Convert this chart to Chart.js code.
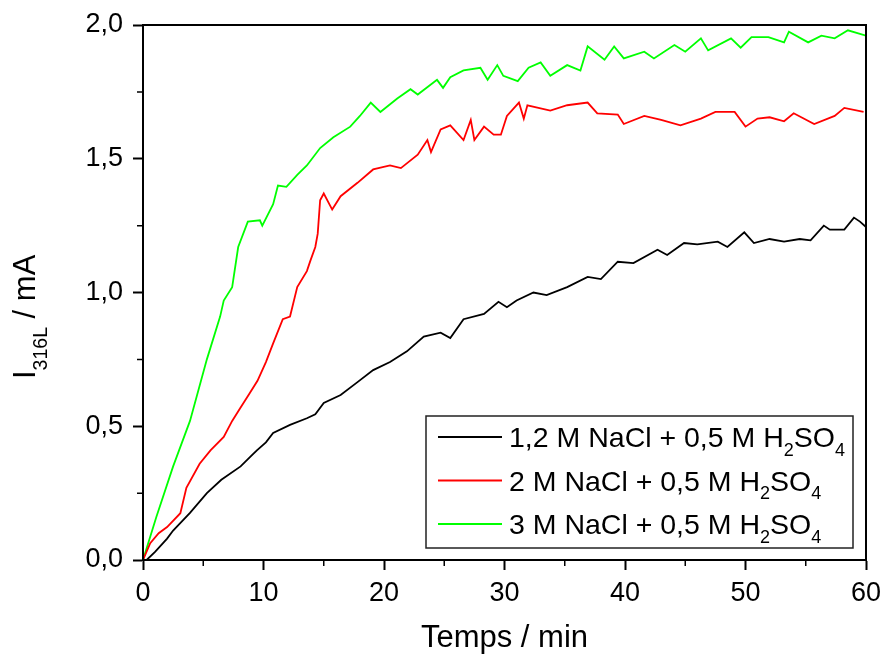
<!DOCTYPE html>
<html>
<head>
<meta charset="utf-8">
<script src="https://cdn.jsdelivr.net/npm/chart.js@4.4.1/dist/chart.umd.min.js"></script>
<style>
  html, body { margin: 0; padding: 0; background: #fff; }
  #wrap { width: 885px; height: 657px; }
</style>
</head>
<body>
<div id="wrap"><canvas id="chart"></canvas></div>
<script>
const FONT = "Arial, 'Liberation Sans', sans-serif";

// 1,2 M NaCl
const TIME_12 = [0.3, 1, 2, 2.5, 3.9, 5.3, 6.5, 8.1, 9.0, 9.45, 10.2, 10.8, 12.2, 13.6, 14.3, 15, 16.4, 17.8, 19.1, 20.5,
  21.9, 23.3, 24.7, 25.5, 26.6, 28.3, 29.5, 30.2, 31, 32.4, 33.5, 35.2, 36.9, 38, 39.4, 40.7, 42.7, 43.5, 44.9, 46,
  47.7, 48.5, 49.9, 50.7, 52, 53.2, 54.5, 55.4, 56.5, 57, 58.2, 59, 59.5, 60];
const CURR_12 = [0, 0.03, 0.08, 0.11, 0.176, 0.25, 0.30, 0.35, 0.39, 0.41, 0.44, 0.475, 0.505, 0.53, 0.545, 0.587, 0.617, 0.665, 0.71, 0.74,
  0.78, 0.835, 0.85, 0.83, 0.90, 0.92, 0.965, 0.945, 0.97, 1.0, 0.99, 1.02, 1.058, 1.05, 1.115, 1.11, 1.16, 1.14, 1.185, 1.18,
  1.19, 1.17, 1.225, 1.185, 1.20, 1.19, 1.20, 1.195, 1.25, 1.235, 1.235, 1.28, 1.265, 1.245];

// 2 M NaCl
const TIME_2 = [0, 0.6, 1.3, 2, 3.1, 3.6, 4.7, 5.6, 6.7, 7.4, 8.1, 8.8, 9.5, 10.2, 10.8, 11.6, 12.2, 12.8, 13.6, 13.9,
  14.3, 14.5, 14.7, 15, 15.7, 16.4, 17.8, 19.1, 20.5, 21.4, 22.8, 23.6, 23.9, 24.7, 25.5, 26.6, 27.2, 27.5, 28.3, 29.1,
  29.7, 30.2, 31.2, 31.6, 31.9, 33.8, 35.2, 36.9, 37.7, 39.4, 39.9, 41.6, 43, 44.6, 46.3, 47.5, 49.1, 50, 51, 52,
  53.2, 54, 55.7, 57.4, 58.2, 59.8];
const CURR_2 = [0, 0.063, 0.10, 0.123, 0.175, 0.27, 0.36, 0.41, 0.46, 0.52, 0.57, 0.62, 0.67, 0.74, 0.81, 0.90, 0.91, 1.02, 1.08, 1.12,
  1.17, 1.22, 1.345, 1.37, 1.31, 1.36, 1.41, 1.46, 1.475, 1.465, 1.515, 1.57, 1.525, 1.61, 1.625, 1.57, 1.645, 1.57, 1.62, 1.59,
  1.59, 1.66, 1.71, 1.65, 1.70, 1.68, 1.70, 1.71, 1.67, 1.665, 1.63, 1.66, 1.645, 1.625, 1.65, 1.675, 1.675, 1.62, 1.65, 1.655,
  1.64, 1.67, 1.63, 1.66, 1.69, 1.675];

// 3 M NaCl
const TIME_3 = [0, 1.1, 2.5, 3.9, 5.3, 6.4, 6.7, 7.4, 7.9, 8.7, 9.7, 9.9, 10.8, 11.2, 11.9, 12.8, 13.6, 14.7, 15.8, 17.2,
  18, 18.9, 19.7, 21.1, 22.2, 22.8, 24.4, 24.9, 25.5, 26.6, 28, 28.6, 29.4, 29.9, 31.1, 32, 33, 33.8, 35.2, 36.3,
  36.9, 38.3, 39.1, 39.9, 41.6, 42.4, 44.1, 45, 46.3, 46.9, 48.8, 49.6, 50.5, 51.9, 53.2, 53.6, 55.2, 56.3, 57.4, 58.5, 60];
const CURR_3 = [0, 0.16, 0.35, 0.52, 0.75, 0.91, 0.97, 1.02, 1.17, 1.265, 1.27, 1.25, 1.33, 1.40, 1.395, 1.44, 1.475, 1.54, 1.58, 1.62,
  1.66, 1.71, 1.675, 1.725, 1.76, 1.74, 1.795, 1.765, 1.805, 1.83, 1.84, 1.795, 1.85, 1.81, 1.79, 1.84, 1.86, 1.81, 1.85, 1.83,
  1.92, 1.87, 1.92, 1.875, 1.90, 1.875, 1.925, 1.90, 1.95, 1.905, 1.95, 1.915, 1.955, 1.955, 1.935, 1.975, 1.935, 1.96, 1.95, 1.98, 1.96];

const SERIES_LABELS = ['1,2 M NaCl + 0,5 M H_2SO_4', '2 M NaCl + 0,5 M H_2SO_4', '3 M NaCl + 0,5 M H_2SO_4'];
const SERIES_COLORS = ['#000000', '#FF0000', '#00FF00'];

const X_MINOR = [5, 15, 25, 35, 45, 55];
const Y_MINOR = [0.25, 0.75, 1.25, 1.75];

const toPoints = (ts, vs) => ts.map((t, i) => ({ x: t, y: vs[i] }));

// texte avec indices : "_X" -> X en indice
function drawRich(ctx, str, x, y, size, subSize, subDrop) {
  const parts = str.split(/_(\w)/);
  parts.forEach((p, i) => {
    const sub = i % 2 === 1;
    ctx.font = `${sub ? subSize : size}px ${FONT}`;
    ctx.fillText(p, x, sub ? y + subDrop : y);
    x += ctx.measureText(p).width;
  });
}

const decorPlugin = {
  id: 'decor',
  afterDraw(chart) {
    const { ctx, chartArea: a, scales: { x, y } } = chart;
    ctx.save();

    // cadre
    ctx.strokeStyle = '#000';
    ctx.lineWidth = 2;
    ctx.strokeRect(a.left, a.top, a.right - a.left, a.bottom - a.top);

    // graduations secondaires
    ctx.lineWidth = 1.5;
    ctx.beginPath();
    X_MINOR.forEach(v => { const px = x.getPixelForValue(v); ctx.moveTo(px, a.bottom); ctx.lineTo(px, a.bottom + 6); });
    Y_MINOR.forEach(v => { const py = y.getPixelForValue(v); ctx.moveTo(a.left, py); ctx.lineTo(a.left - 6, py); });
    ctx.stroke();

    // légende
    const bx = a.right - 440, by = a.bottom - 144, bw = 427, bh = 132;
    ctx.fillStyle = '#fff';
    ctx.fillRect(bx, by, bw, bh);
    ctx.strokeStyle = '#222';
    ctx.lineWidth = 1.5;
    ctx.strokeRect(bx, by, bw, bh);
    SERIES_LABELS.forEach((lab, i) => {
      const cy = by + 21 + i * 43.5;
      ctx.strokeStyle = SERIES_COLORS[i];
      ctx.lineWidth = 2;
      ctx.beginPath();
      ctx.moveTo(bx + 12, cy);
      ctx.lineTo(bx + 76, cy);
      ctx.stroke();
      ctx.fillStyle = '#000';
      ctx.textBaseline = 'alphabetic';
      drawRich(ctx, lab, bx + 83, cy + 10, 28.5, 18, 8.5);
    });

    // titre axe Y : I indice 316L / mA
    ctx.translate(35, 379);
    ctx.rotate(-Math.PI / 2);
    ctx.fillStyle = '#000';
    ctx.textBaseline = 'alphabetic';
    let px = 0;
    ctx.font = `31px ${FONT}`;
    ctx.fillText('I', px, 0); px += ctx.measureText('I').width;
    ctx.font = `19.5px ${FONT}`;
    ctx.fillText('316L', px, 12); px += ctx.measureText('316L').width;
    ctx.font = `31px ${FONT}`;
    ctx.fillText(' / mA', px, 0);
    ctx.restore();
  }
};

new Chart(document.getElementById('chart'), {
  type: 'line',
  data: {
    datasets: [
      { label: SERIES_LABELS[0], data: toPoints(TIME_12, CURR_12), borderColor: SERIES_COLORS[0] },
      { label: SERIES_LABELS[1], data: toPoints(TIME_2, CURR_2), borderColor: SERIES_COLORS[1] },
      { label: SERIES_LABELS[2], data: toPoints(TIME_3, CURR_3), borderColor: SERIES_COLORS[2] },
    ].map(d => ({ ...d, borderWidth: 1.8, pointRadius: 0, tension: 0, fill: false })),
  },
  options: {
    responsive: true, maintainAspectRatio: false, animation: false,
    layout: { padding: { top: 25, right: 19, left: 0, bottom: 0 } },
    plugins: { legend: { display: false }, tooltip: { enabled: false } },
    scales: {
      x: {
        type: 'linear', min: 0, max: 60,
        afterFit: s => { s.height = 97; s.paddingLeft = 0; s.paddingRight = 0; },
        ticks: { stepSize: 10, color: '#000', padding: 7, font: { family: FONT, size: 27 }, maxRotation: 0 },
        grid: { drawOnChartArea: false, tickLength: 10, tickWidth: 2, tickColor: '#000' },
        border: { color: '#000', width: 2 },
        title: { display: true, text: 'Temps / min', color: '#000', font: { family: FONT, size: 31 }, padding: { top: 0, bottom: 0 } },
      },
      y: {
        min: 0, max: 2,
        afterFit: s => { s.width = 143; s.paddingTop = 0; s.paddingBottom = 0; },
        ticks: { stepSize: 0.5, color: '#000', padding: 10, font: { family: FONT, size: 27 },
                 callback: v => v.toFixed(1).replace('.', ',') },
        grid: { drawOnChartArea: false, tickLength: 10, tickWidth: 2, tickColor: '#000' },
        border: { color: '#000', width: 2 },
      },
    },
  },
  plugins: [decorPlugin],
});
</script>
</body>
</html>
